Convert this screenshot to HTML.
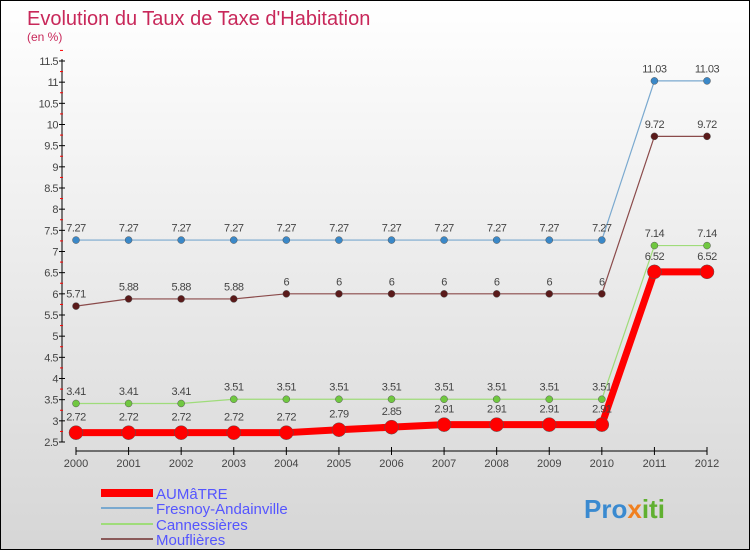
<!DOCTYPE html>
<html><head><meta charset="utf-8"><style>
body{margin:0}
#c{width:750px;height:550px;position:relative;box-sizing:border-box;border:1px solid #000;background:linear-gradient(#fff,#d6d6d6);font-family:"Liberation Sans",sans-serif;overflow:hidden}
</style></head><body>
<div id="c">
<svg id="s" width="750" height="550" style="position:absolute;left:0;top:0">
<text x="26" y="24" font-size="20" fill="#c8285a">Evolution du Taux de Taxe d'Habitation</text>
<text x="26" y="40" font-size="12" fill="#c8285a">(en %)</text>
<g id="ax"></g><g id="ser"></g>
<g font-size="15" fill="#5555ff">
<rect x="100" y="488" width="52" height="8" fill="#f00"/>
<text x="155" y="498">AUMâTRE</text>
<rect x="100" y="506" width="52" height="2" fill="#7aa9cf"/>
<text x="155" y="513">Fresnoy-Andainville</text>
<rect x="100" y="522" width="52" height="2" fill="#9fdc7a"/>
<text x="155" y="529">Cannessières</text>
<rect x="100" y="537" width="52" height="2" fill="#8a5a5a"/>
<text x="155" y="544">Mouflières</text>
</g>
<text x="583" y="517" font-size="26" font-weight="bold" fill="#3a8ad0">Pro<tspan fill="#f08020">x</tspan><tspan fill="#60b030">iti</tspan></text>
</svg>
</div>
<script>
const years=[2000,2001,2002,2003,2004,2005,2006,2007,2008,2009,2010,2011,2012];
const yTicks=[2.5,3,3.5,4,4.5,5,5.5,6,6.5,7,7.5,8,8.5,9,9.5,10,10.5,11,11.5];
const aumatre=[2.72,2.72,2.72,2.72,2.72,2.79,2.85,2.91,2.91,2.91,2.91,6.52,6.52];
const fresnoy=[7.27,7.27,7.27,7.27,7.27,7.27,7.27,7.27,7.27,7.27,7.27,11.03,11.03];
const cannessieres=[3.41,3.41,3.41,3.51,3.51,3.51,3.51,3.51,3.51,3.51,3.51,7.14,7.14];
const mouflieres=[5.71,5.88,5.88,5.88,6,6,6,6,6,6,6,9.72,9.72];
const NS="http://www.w3.org/2000/svg";
const X=i=>75+i*(706-75)/(years.length-1);
const Y=v=>441-(v-2.5)*(381/9);
function mk(t,a,p){const e=document.createElementNS(NS,t);for(const k in a)e.setAttribute(k,a[k]);p.appendChild(e);return e;}
const ax=document.getElementById('ax'),ser=document.getElementById('ser');
let l=mk('line',{x1:61,y1:58,x2:61,y2:441,stroke:'#000'},ax);


l=mk('line',{x1:75,y1:450,x2:706,y2:450,stroke:'#000'},ax);


yTicks.forEach(v=>{
 mk('line',{x1:58,y1:Y(v),x2:64,y2:Y(v),stroke:'#000'},ax);
 mk('line',{x1:59,y1:Y(v+0.25),x2:62,y2:Y(v+0.25),stroke:'#f00'},ax);
 const t=mk('text',{x:57,y:Y(v)+4,'font-size':11,fill:'#444','text-anchor':'end','letter-spacing':'-0.5'},ax);
 t.textContent=String(v);
 
 
});
years.forEach((y,i)=>{
 mk('line',{x1:X(i),y1:446,x2:X(i),y2:454,stroke:'#000'},ax);
 const t=mk('text',{x:X(i),y:466,'font-size':11,fill:'#444','text-anchor':'middle'},ax);
 t.textContent=y;
 
 
});
function series(d,col,dot,w,r,name){
 const g=mk('g',{},ser);
 
 
 mk('polyline',{points:d.map((v,i)=>X(i)+','+Y(v)).join(' '),fill:'none',stroke:col,'stroke-width':w},g);
 d.forEach((v,i)=>{
  const c=mk('circle',{cx:X(i),cy:Y(v),r:r,fill:dot,stroke:'#555','stroke-width':0.5},g);
  
  
  const t=mk('text',{x:X(i),y:Y(v)-(r+5),'font-size':11,fill:'#444','text-anchor':'middle','letter-spacing':'-0.5'},g);
  t.textContent=String(v);
  
  
 });
}
series(fresnoy,'#7aa9cf','#3a88c8',1.2,3.5,'fresnoy');
series(mouflieres,'#8a4a4a','#5a1a1a',1.2,3.5,'mouflieres');
series(cannessieres,'#9fdc7a','#70c840',1.2,3.5,'cannessieres');
series(aumatre,'#f00','#f00',7,7,'aumatre');
</script>
</body></html>
